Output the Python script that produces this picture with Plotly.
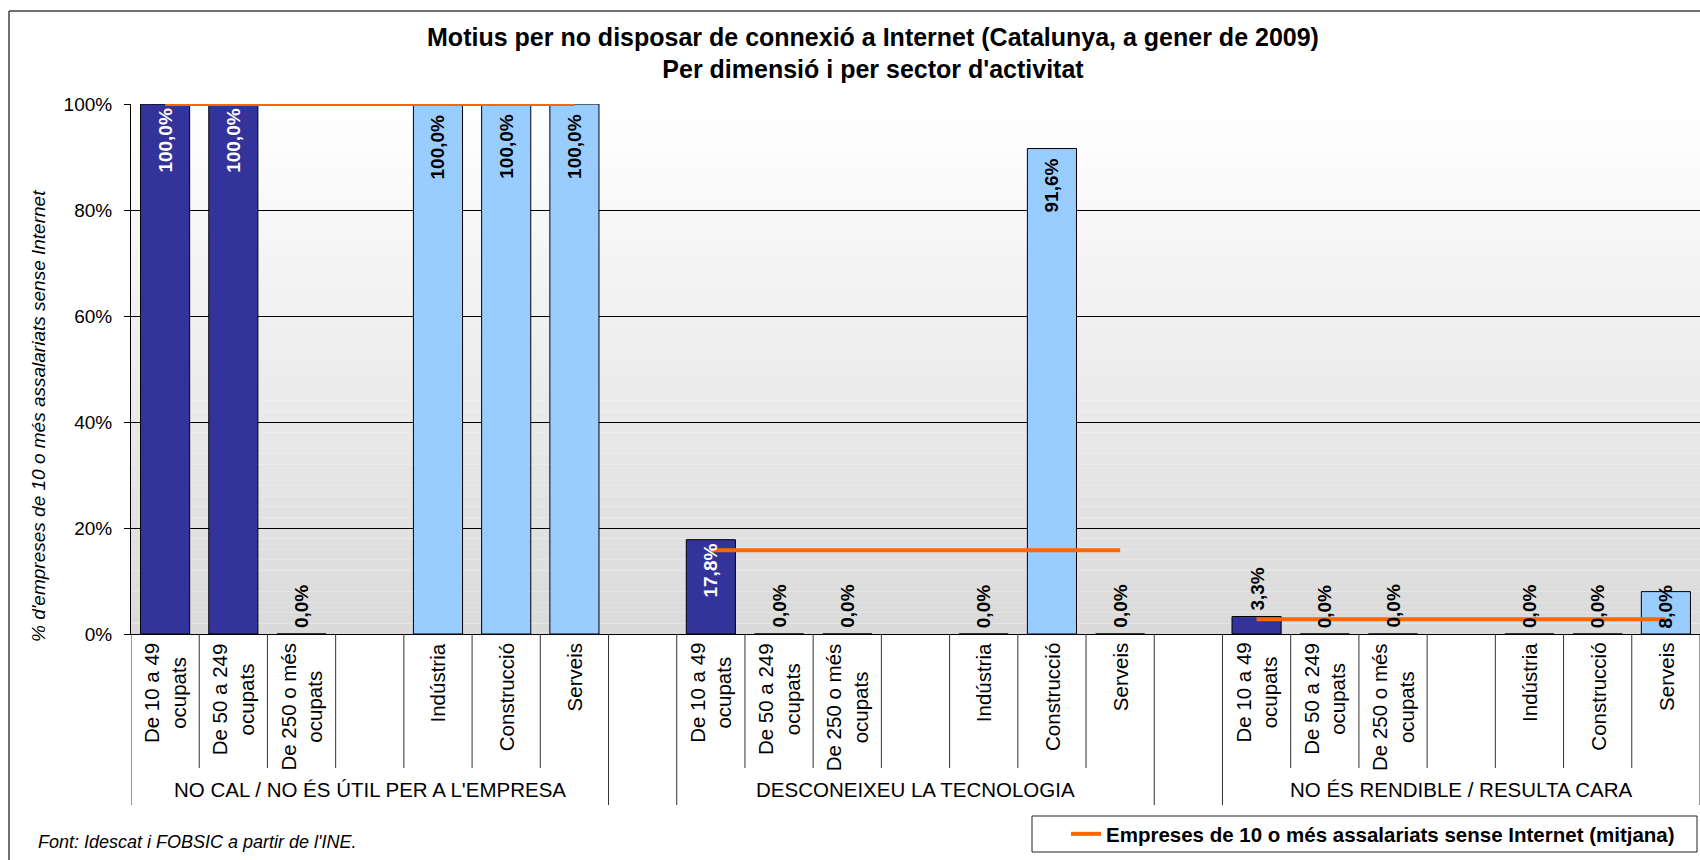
import plotly.graph_objects as go

# ---------------- data ----------------
groups = ["NO CAL / NO ÉS ÚTIL PER A L'EMPRESA",
          "DESCONEIXEU LA TECNOLOGIA",
          "NO ÉS RENDIBLE / RESULTA CARA"]
size_labels = ["De 10 a 49<br>ocupats", "De 50 a 249<br>ocupats", "De 250 o més<br>ocupats"]
sector_labels = ["Indústria", "Construcció", "Serveis"]

size_no_cal = [100.0, 100.0, 0.0]
sector_no_cal = [100.0, 100.0, 100.0]
size_desconeixeu = [17.8, 0.0, 0.0]
sector_desconeixeu = [0.0, 91.6, 0.0]
size_no_rendible = [3.3, 0.0, 0.0]
sector_no_rendible = [0.0, 0.0, 8.0]
mean_values = [100.0, 15.8, 2.8]

y_ticks = [0, 20, 40, 60, 80, 100]
series_name = "Empreses de 10 o més assalariats sense Internet (mitjana)"
title_line1 = "Motius per no disposar de connexió a Internet (Catalunya, a gener de 2009)"
title_line2 = "Per dimensió i per sector d'activitat"
y_title = "% d'empreses de 10 o més assalariats sense Internet"
source_text = "Font: Idescat i FOBSIC a partir de l'INE."

# ---------------- layout geometry ----------------
W, H = 1700, 860
PLOT_L, PLOT_T, PLOT_B, PLOT_R = 131, 104, 634, 1700
L, T, B, R = PLOT_L, PLOT_T, H - PLOT_B, W - PLOT_R
PW, PH = W - L - R, H - T - B
FONT = "Liberation Sans, Arial, sans-serif"
DARK = "#333399"
LIGHT = "#99CCFF"
ORANGE = "#FF6600"


def px_x(s):
    return (s - L) / PW


def px_y(s):
    return (H - B - s) / PH


def fmt(v):
    return f"{v:.1f}".replace(".", ",") + "%"


size_vals = [size_no_cal, size_desconeixeu, size_no_rendible]
sector_vals = [sector_no_cal, sector_desconeixeu, sector_no_rendible]
n_slots = 8 * len(groups) - 1

size_x, size_y, sector_x, sector_y = [], [], [], []
slot_labels = {}
for g in range(len(groups)):
    base = 8 * g
    for i in range(3):
        size_x.append(base + i)
        size_y.append(size_vals[g][i])
        slot_labels[base + i] = size_labels[i]
        sector_x.append(base + 4 + i)
        sector_y.append(sector_vals[g][i])
        slot_labels[base + 4 + i] = sector_labels[i]

mean_x, mean_y = [], []
for g, m in enumerate(mean_values):
    base = 8 * g
    for k in range(7):
        mean_x.append(base + k)
        mean_y.append(m)
    if g < len(mean_values) - 1:
        mean_x.append(base + 7)
        mean_y.append(None)

fig = go.Figure()
fig.add_trace(go.Bar(x=size_x, y=size_y, width=0.72, marker=dict(color=DARK, line=dict(color="black", width=1)),
                     showlegend=False, hoverinfo="skip"))
fig.add_trace(go.Bar(x=sector_x, y=sector_y, width=0.72, marker=dict(color=LIGHT, line=dict(color="black", width=1)),
                     showlegend=False, hoverinfo="skip"))
fig.add_trace(go.Scatter(x=mean_x, y=mean_y, mode="lines", name=series_name,
                         line=dict(color=ORANGE, width=4), connectgaps=False, hoverinfo="skip"))

shapes = []
# gradient plot background
nb = 50
for i in range(nb):
    t = i / (nb - 1)
    c = int(round(0xDA + (0xFF - 0xDA) * t))
    shapes.append(dict(type="rect", xref="paper", yref="y", x0=0, x1=1, y0=100 * i / nb, y1=100 * (i + 1) / nb,
                       fillcolor=f"rgb({c},{c},{c})", line=dict(width=0), layer="below"))

# category separators
group_edges = set()
for g in range(len(groups)):
    group_edges.add(8 * g)
    group_edges.add(8 * g + 7)
group_edges.add(n_slots)
for k in range(n_slots + 1):
    bottom = 805 if k in group_edges else 768
    shapes.append(dict(type="line", xref="x", yref="paper", x0=k - 0.5, x1=k - 0.5,
                       y0=px_y(PLOT_B), y1=px_y(bottom), line=dict(color="#333333", width=1)))

# outer chart border (left and top edges only are inside the picture)
shapes.append(dict(type="line", xref="paper", yref="paper", x0=px_x(9), x1=px_x(9), y0=px_y(11), y1=px_y(860),
                   line=dict(color="#404040", width=1.5)))
shapes.append(dict(type="line", xref="paper", yref="paper", x0=px_x(9), x1=px_x(1700), y0=px_y(11), y1=px_y(11),
                   line=dict(color="#404040", width=1.5)))
# legend box
shapes.append(dict(type="rect", xref="paper", yref="paper", x0=px_x(1032), x1=px_x(1697), y0=px_y(816), y1=px_y(852),
                   line=dict(color="#222222", width=1), fillcolor="white"))

annotations = []
# data labels
for x, v in zip(size_x, size_y):
    if v >= 10:
        annotations.append(dict(x=x, y=v, yanchor="top", yshift=-2, text=fmt(v),
                                font=dict(color="white", size=19, family=FONT, weight="bold")))
    else:
        annotations.append(dict(x=x, y=v, yanchor="bottom", yshift=4, text=fmt(v),
                                font=dict(color="black", size=19, family=FONT, weight="bold")))
for x, v in zip(sector_x, sector_y):
    if v >= 50:
        annotations.append(dict(x=x, y=v, yanchor="top", yshift=-8, text=fmt(v),
                                font=dict(color="black", size=19, family=FONT, weight="bold")))
    else:
        annotations.append(dict(x=x, y=0, yanchor="bottom", yshift=4, text=fmt(v),
                                font=dict(color="black", size=19, family=FONT, weight="bold")))
for a in annotations:
    a.update(xref="x", yref="y", textangle=-90, showarrow=False, xanchor="center")

# category tick labels
for k, lab in slot_labels.items():
    annotations.append(dict(x=k, y=px_y(641), xref="x", yref="paper", text=lab, textangle=-90,
                            showarrow=False, xanchor="center", yanchor="top", align="center",
                            font=dict(size=20.5, family=FONT, color="black")))
# group labels
for g, name in enumerate(groups):
    annotations.append(dict(x=8 * g + 3, y=px_y(789), xref="x", yref="paper", text=name, showarrow=False,
                            xanchor="center", yanchor="middle", font=dict(size=20.5, family=FONT, color="black")))
# y axis title
annotations.append(dict(x=px_x(38), y=px_y(416), xref="paper", yref="paper", text=f"<i>{y_title}</i>",
                        textangle=-90, showarrow=False, xanchor="center", yanchor="middle",
                        font=dict(size=19, family=FONT, color="black")))
# source
annotations.append(dict(x=px_x(36), y=px_y(842), xref="paper", yref="paper", text=f"<i>{source_text}</i>",
                        showarrow=False, xanchor="left", yanchor="middle",
                        font=dict(size=18, family=FONT, color="black")))

fig.update_layout(
    width=W, height=H,
    margin=dict(l=L, r=R, t=T, b=B, pad=0, autoexpand=False),
    paper_bgcolor="white", plot_bgcolor="rgba(0,0,0,0)",
    barmode="overlay",
    font=dict(family=FONT, color="black"),
    title=dict(text=f"<b>{title_line1}</b><br><b>{title_line2}</b>",
               xref="container", yref="container", x=873 / W, xanchor="center",
               y=1 - 45.5 / H, yanchor="middle", font=dict(size=25, family=FONT, color="black")),
    xaxis=dict(range=[-0.5, n_slots - 0.5], showticklabels=False, ticks="", showgrid=False, zeroline=False,
               showline=True, linecolor="black", linewidth=1),
    yaxis=dict(range=[0, 100], tickvals=y_ticks, ticktext=[f"{v}%" for v in y_ticks],
               showgrid=True, gridcolor="black", gridwidth=1, zeroline=False,
               showline=True, linecolor="black", linewidth=1, ticks="outside", ticklen=6, tickcolor="black",
               ticklabelstandoff=8, tickfont=dict(size=19, family=FONT, color="black")),
    showlegend=True,
    legend=dict(x=px_x(1066), y=px_y(834), xanchor="left", yanchor="middle", bgcolor="rgba(0,0,0,0)",
                borderwidth=0, font=dict(size=20.5, family=FONT, color="black", weight="bold")),
    shapes=shapes,
    annotations=annotations,
)

fig.write_html(
    "out.html",
    config={"displayModeBar": False},
    post_script=("document.documentElement.style.margin='0';document.body.style.margin='0';"
                 "document.documentElement.style.overflow='hidden';document.body.style.overflow='hidden';"),
)
